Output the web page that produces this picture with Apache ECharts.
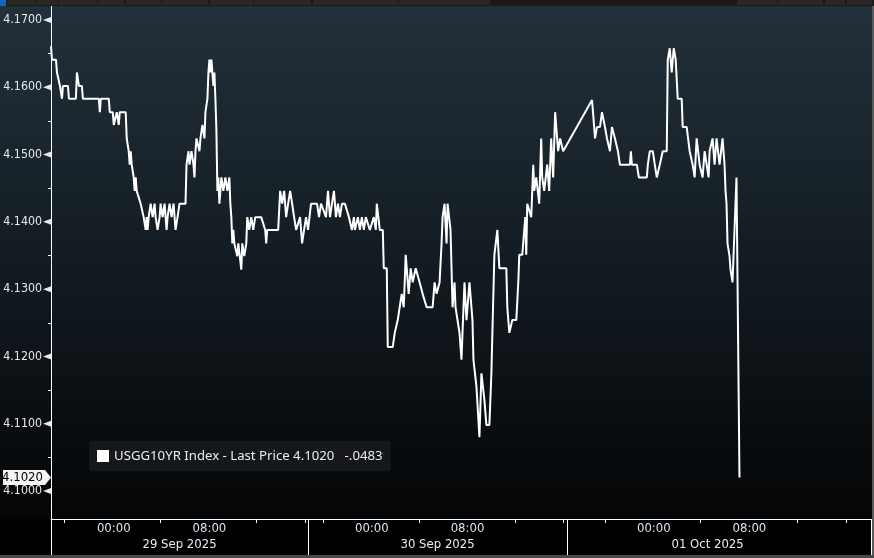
<!DOCTYPE html>
<html><head><meta charset="utf-8">
<script src="https://cdn.jsdelivr.net/npm/echarts@6/dist/echarts.min.js"></script>
<style>html,body{margin:0;padding:0;background:#000;}#c{width:874px;height:558px;}</style>
</head><body><div id="c"></div>
<script>
// ---- data (x = 5-minute trading bars since chart start, y = yield %) ----
const seriesName = 'USGG10YR Index';
const bars = [
0,1,5,6,8,9,10,11,12,17,18,25,26,27,28,31,32,48,49,50,58,59,62,63,65,66,67,68,69,75,76,77,78,79,80,81,83,84,85,86,88,90,92,93,95,96,97,98,100,102,104,105,107,109,110,112,114,116,117,119,121,123,125,127,129,135,136,138,139,141,143,144,145,146,148,149,150,152,154,155,157,158,159,160,161,163,164,165,166,167,168,169,170,171,173,175,177,179,180,181,182,183,184,186,187,188,190,191,192,194,196,197,199,201,203,205,211,213,215,216,217,228,230,232,234,236,238,240,242,244,246,248,250,252,254,256,258,
261,267,269,271,276,278,280,282,284,286,288,290,292,295,299,302,304,305,308,310,312,314,316,320,324,326,327,329,330,333,334,337,338,343,345,347,348,350,352,354,355,356,358,359,361,363,366,370,373,377,383,385,387,390,392,393,395,397,398,401,402,403,405,406,410,412,413,415,417,420,423,424,427,430,432,435,437,440,442,443,445,448,450,457,458,460,461,463,467,469,470,473,476,477,478,480,482,484,485,487,490,492,493,495,498,500,502,504,506,507,508,509,511,514,
543,544,546,548,551,553,554,556,558,561,563,566,569,571,576,581,582,583,588,590,591,598,599,601,604,606,608,611,614,618,619,621,622,623,625,627,629,633,634,638,641,644,646,648,651,654,656,658,660,661,664,666,668,671,674,676,677,678,679,681,682,684,685,687,688,691];
const yields = [
4.1661,4.1641,4.1641,4.1622,4.1622,4.1602,4.1602,4.1583,4.1602,4.1602,4.1583,4.1583,4.1622,4.1622,4.1602,4.1602,4.1583,4.1583,4.1563,4.1583,4.1583,4.1563,4.1563,4.1544,4.1544,4.1563,4.1563,4.1544,4.1563,4.1563,4.1524,4.1524,4.1505,4.1485,4.1505,4.1485,4.1466,4.1446,4.1466,4.1446,4.1446,4.1427,4.1427,4.1407,4.1388,4.1407,4.1388,4.1407,4.1427,4.1407,4.1427,4.1407,4.1388,4.1407,4.1427,4.1407,4.1427,4.1388,4.1407,4.1427,4.1407,4.1427,4.1388,4.1407,4.1427,4.1427,4.1485,4.1505,4.1485,4.1505,4.1485,4.1466,4.1505,4.1524,4.1524,4.1505,4.1524,4.1544,4.1524,4.1563,4.1583,4.1622,4.1641,4.1622,4.1641,4.1602,4.1622,4.1583,4.1537,4.1446,4.1466,4.1427,4.1446,4.1466,4.1446,4.1466,4.1446,4.1466,4.1427,4.1407,4.1368,4.1388,4.1368,4.1368,4.1349,4.1368,4.1368,4.1329,4.1368,4.1349,4.1368,4.1407,4.1388,4.1407,4.1388,4.1407,4.1407,4.1407,4.1388,4.1368,4.1388,4.1388,4.1446,4.1427,4.1446,4.1407,4.1427,4.1446,4.1427,4.1407,4.1388,4.1388,4.1407,4.1368,4.1388,4.1407,4.1388,
4.1427,4.1427,4.1407,4.1427,4.1407,4.1446,4.1407,4.1427,4.1446,4.1407,4.1427,4.1407,4.1427,4.1427,4.1407,4.1388,4.1407,4.1388,4.1407,4.1388,4.1407,4.1388,4.1407,4.1388,4.1407,4.1388,4.1427,4.1427,4.1388,4.1388,4.1331,4.1331,4.1214,4.1214,4.1235,4.1235,4.1254,4.1254,4.1293,4.1273,4.1310,4.1351,4.1351,4.1293,4.1331,4.1310,4.1331,4.1310,4.1293,4.1273,4.1273,4.1310,4.1293,4.1310,4.1368,4.1407,4.1427,4.1368,4.1427,4.1388,4.1331,4.1273,4.1310,4.1273,4.1235,4.1195,4.1235,4.1310,4.1254,4.1310,4.1254,4.1195,4.1155,4.1080,4.1175,4.1135,4.1098,4.1098,4.1175,4.1235,4.1351,4.1388,4.1331,4.1331,4.1273,4.1235,4.1235,4.1254,4.1254,4.1310,4.1351,4.1351,4.1407,4.1351,4.1427,4.1427,4.1407,4.1485,4.1446,4.1466,4.1427,4.1524,4.1466,4.1446,4.1485,4.1446,4.1524,4.1466,4.1563,4.1563,4.1524,4.1505,4.1524,4.1505,
4.1581,4.1563,4.1524,4.1541,4.1541,4.1563,4.1563,4.1541,4.1524,4.1505,4.1541,4.1524,4.1505,4.1485,4.1485,4.1485,4.1505,4.1485,4.1485,4.1466,4.1466,4.1466,4.1485,4.1505,4.1505,4.1485,4.1466,4.1485,4.1505,4.1505,4.1641,4.1658,4.1658,4.1622,4.1658,4.1641,4.1583,4.1583,4.1541,4.1541,4.1505,4.1485,4.1466,4.1524,4.1485,4.1466,4.1505,4.1505,4.1466,4.1505,4.1524,4.1485,4.1524,4.1485,4.1524,4.1485,4.1446,4.1427,4.1368,4.1349,4.1329,4.1310,4.1349,4.1349,4.1466,4.1020];
const lastPrice = 4.1020;
const netChange = -0.0483;

// axes
const yMin = 4.09584, yMax = 4.17208;
const yTickValues = [4.10, 4.11, 4.12, 4.13, 4.14, 4.15, 4.16, 4.17];
const yMinorTickValues = [4.105, 4.115, 4.125, 4.135, 4.145, 4.155, 4.165];
const xMax = 823;
const timeLabelBars = [63, 159, 322, 418, 605, 701];
const timeLabels = ['00:00', '08:00', '00:00', '08:00', '00:00', '08:00'];
const timeTickBars = [13, 110, 206, 255, 273, 370, 466, 514, 556, 652, 749, 798];
const dateLabelBars = [129, 388, 659];
const dateLabels = ['29 Sep 2025', '30 Sep 2025', '01 Oct 2025'];
const sessionBreakBars = [0, 258, 518];

const FONT = 'DejaVu Sans Condensed';
const chart = echarts.init(document.getElementById('c'), null, {renderer: 'canvas'});

function fmtChange(c) {
  const s = Math.abs(c).toFixed(4).replace(/^0/, '');
  return (c < 0 ? '-' : '+') + s;
}

chart.setOption({
  animation: false,
  backgroundColor: {
    type: 'linear', x: 0, y: 0, x2: 0, y2: 1,
    colorStops: [
      {offset: 0, color: '#23313b'},
      {offset: 0.5, color: '#121a20'},
      {offset: 0.93, color: '#040506'},
      {offset: 0.931, color: '#000000'},
      {offset: 1, color: '#000000'}
    ]
  },
  grid: {left: 51, right: 3, top: 6, bottom: 39, containLabel: false, outerBoundsMode: 'none'},
  legend: {
    show: true,
    data: [seriesName],
    left: 89, top: 441,
    padding: [8, 8, 8, 8],
    backgroundColor: '#15171a',
    borderRadius: 3,
    icon: 'rect',
    itemWidth: 12, itemHeight: 12,
    textStyle: {color: '#e8eef4', fontFamily: 'Noto Sans', fontSize: 13.2, lineHeight: 14},
    formatter: function (n) {
      return n + ' - Last Price ' + lastPrice.toFixed(4) + '   ' + fmtChange(netChange);
    },
    selectedMode: false
  },
  xAxis: [{
    type: 'value', min: 0, max: xMax, position: 'bottom',
    axisLine: {show: true, lineStyle: {color: '#ffffff', width: 1}},
    axisTick: {show: true, customValues: timeTickBars, length: 4, lineStyle: {color: '#ffffff'}},
    axisLabel: {
      customValues: timeLabelBars, margin: 3, color: '#d6e3f2',
      fontFamily: FONT, fontSize: 13,
      formatter: function (v) { const i = timeLabelBars.indexOf(v); return i >= 0 ? timeLabels[i] : ''; }
    },
    splitLine: {show: false}
  }, {
    type: 'value', min: 0, max: xMax, position: 'bottom', gridIndex: 0,
    axisLine: {show: false},
    axisTick: {show: true, customValues: sessionBreakBars, length: 36, lineStyle: {color: '#ffffff'}},
    axisLabel: {
      customValues: dateLabelBars, margin: 19, color: '#e6ecf2',
      fontFamily: FONT, fontSize: 13,
      formatter: function (v) { const i = dateLabelBars.indexOf(v); return i >= 0 ? dateLabels[i] : ''; }
    },
    splitLine: {show: false}
  }],
  yAxis: {
    type: 'value', min: yMin, max: yMax, position: 'left',
    axisLine: {show: true, lineStyle: {color: '#ffffff', width: 1}},
    axisTick: {show: true, customValues: yMinorTickValues, length: 3, lineStyle: {color: '#ffffff'}},
    axisLabel: {
      customValues: yTickValues, margin: 9, color: '#e6ebf0',
      fontFamily: FONT, fontSize: 12.3,
      formatter: function (v) { return v.toFixed(4); }
    },
    splitLine: {show: false}
  },
  series: [{
    name: seriesName,
    type: 'line',
    showSymbol: false,
    symbol: 'none',
    data: bars.map(function (b, i) { return [b, yields[i]]; }),
    lineStyle: {color: '#ffffff', width: 2},
    itemStyle: {color: '#ffffff'},
    z: 3
  }]
});

// decorations positioned through the chart's own scales
const gfx = [];
gfx.push({type: 'rect', shape: {x: 0, y: 0, width: 874, height: 6}, style: {fill: '#1c1a17'}, z: 100});
gfx.push({type: 'rect', shape: {x: 0, y: 0, width: 6, height: 6}, style: {fill: '#1565c0'}, z: 101});
[[7,28],[36,22],[59,38],[98,26],[126,35],[162,46],[210,43],[254,57],[313,85],[399,91],[737,40],[778,45],[825,20],[847,25]].forEach(function (b) {
  gfx.push({type: 'rect', shape: {x: b[0], y: 0, width: b[1], height: 5}, style: {fill: '#2a2825'}, z: 101});
});
gfx.push({type: 'rect', shape: {x: 872, y: 6, width: 2, height: 552}, style: {fill: '#5a5a5a'}, z: 100});
gfx.push({type: 'rect', shape: {x: 0, y: 555, width: 874, height: 3}, style: {fill: '#4a4a4a'}, z: 100});
gfx.push({type: 'line', shape: {x1: 871.5, y1: 519, x2: 871.5, y2: 555}, style: {stroke: '#ffffff', lineWidth: 1}, z: 100});

yTickValues.forEach(function (v) {
  const y = chart.convertToPixel({yAxisIndex: 0}, v);
  gfx.push({type: 'polygon', shape: {points: [[43, y], [51, y - 3], [51, y + 3]]}, style: {fill: '#e8e8e8'}, z: 50});
});
const ly = chart.convertToPixel({yAxisIndex: 0}, lastPrice);
gfx.push({type: 'polygon', shape: {points: [[3, ly - 7.5], [45, ly - 7.5], [51, ly], [45, ly + 7.5], [3, ly + 7.5]]}, style: {fill: '#f4f4f4'}, z: 60});
gfx.push({type: 'text', x: 43, y: ly, style: {text: lastPrice.toFixed(4), fill: '#000', font: '13px "' + FONT + '"', align: 'right', verticalAlign: 'middle'}, z: 61});

chart.setOption({graphic: {elements: gfx}});
</script></body></html>
